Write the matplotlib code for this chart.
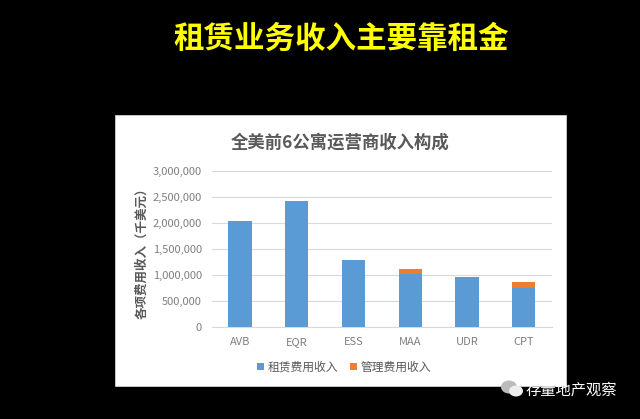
import matplotlib
matplotlib.use("Agg")
import matplotlib.pyplot as plt
from matplotlib.patches import Rectangle, Patch, Ellipse
from matplotlib.ticker import FuncFormatter

companies = ["AVB", "EQR", "ESS", "MAA", "UDR", "CPT"]
rent_income = [2040000, 2430000, 1290000, 1023000, 960000, 754000]
mgmt_income = [0, 0, 0, 97000, 0, 116000]
yticks = [0, 500000, 1000000, 1500000, 2000000, 2500000, 3000000]
series_names = ["租赁费用收入", "管理费用收入"]

plt.rcParams['font.family'] = ['Noto Sans CJK SC', 'DejaVu Sans']

W, H = 640, 419
fig = plt.figure(figsize=(W / 100, H / 100), dpi=100, facecolor='black')

def fx(x):
    return x / W

def fy(y):
    return 1 - y / H

# white panel
fig.patches.append(Rectangle((fx(115), fy(386)), fx(566) - fx(115), fy(115) - fy(386),
                             transform=fig.transFigure, facecolor='white',
                             edgecolor='#cfcfcf', linewidth=0.6, zorder=-5))

# main title
fig.text(fx(341), fy(39), "租赁业务收入主要靠租金", color='#FFFF00', fontsize=22,
         fontweight='bold', ha='center', va='center')

ax = fig.add_axes([fx(211.7), fy(327.3), fx(552) - fx(211.7), fy(171) - fy(327.3)])
ax.set_zorder(1)
ax.set_facecolor('none')
blue = '#5B9BD5'
orange = '#ED7D31'
x = list(range(len(companies)))
ax.bar(x, rent_income, width=0.41, color=blue, zorder=3)
ax.bar(x, mgmt_income, width=0.41, bottom=rent_income, color=orange, zorder=3)
ax.set_xlim(-0.5, len(companies) - 0.5)
ax.set_ylim(0, 3000000)
ax.set_yticks(yticks)
ax.yaxis.set_major_formatter(FuncFormatter(lambda v, p: f"{int(v):,}"))
ax.set_xticks(x)
ax.set_xticklabels(companies)
ax.grid(axis='y', color='#d9d9d9', linewidth=0.8, zorder=0)
ax.set_axisbelow(True)
for s in ['top', 'right', 'left']:
    ax.spines[s].set_visible(False)
ax.spines['bottom'].set_color('#d9d9d9')
ax.spines['bottom'].set_linewidth(0.8)
ax.tick_params(axis='both', length=0, labelsize=8, labelcolor='#7f7f7f')
ax.tick_params(axis='y', pad=7)
ax.tick_params(axis='x', pad=7)

fig.text(fx(340), fy(142.7), "全美前6公寓运营商收入构成", color='#595959', fontsize=12.5,
         fontweight='bold', ha='center', va='center')
fig.text(fx(142), fy(250), "各项费用收入（千美元）", color='#595959', fontsize=9,
         fontweight='bold', ha='center', va='center', rotation=90)

handles = [Patch(facecolor=blue), Patch(facecolor=orange)]
fig.legend(handles, series_names, loc='center', bbox_to_anchor=(fx(344), fy(367)),
           ncol=2, frameon=False, fontsize=8.5, labelcolor='#595959',
           handlelength=0.6, handleheight=0.6, handletextpad=0.3, columnspacing=1.0)

# watermark icon
fig.patches.append(Ellipse((fx(509), fy(387)), fx(16), fy(0) - fy(13), transform=fig.transFigure,
                           facecolor='#bbbbbb', edgecolor='none', zorder=5))
fig.patches.append(Ellipse((fx(516), fy(391)), fx(14), fy(0) - fy(11), transform=fig.transFigure,
                           facecolor='#eeeeee', edgecolor='none', zorder=6))
fig.text(fx(526), fy(390), "存量地产观察", color='white', fontsize=11,
         ha='left', va='center', zorder=7)

fig.savefig("out.png", dpi=100, facecolor='black')
